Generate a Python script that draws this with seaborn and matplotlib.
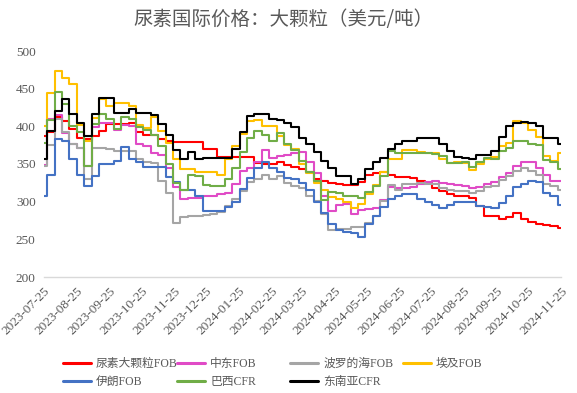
import pandas as pd
import matplotlib
matplotlib.use('Agg')
import matplotlib.pyplot as plt
import matplotlib.dates as mdates
from matplotlib.lines import Line2D
import seaborn as sns

sns.set_theme(style="white")
plt.rcParams['font.family'] = ['Liberation Serif', 'Noto Sans CJK SC', 'DejaVu Sans']
plt.rcParams['axes.unicode_minus'] = False

START = pd.Timestamp('2023-07-25')
END = pd.Timestamp('2024-11-25')
# first quote on the start date, then one quote per week (Fridays)
quote_dates = [START] + list(pd.date_range('2023-07-28', '2024-11-22', freq='7D'))

# 尿素大颗粒FOB
urea_fob = [387,
            392, 413, 407, 397, 384, 383, 387, 394, 403, 403,
            403, 405, 393, 389, 388, 383, 381, 379, 379, 379,
            379, 370, 370, 359, 359, 359, 359, 359, 351, 350,
            350, 352, 349, 346, 343, 340, 330, 328, 325, 323,
            322, 322, 326, 336, 338, 340, 335, 333, 333, 331,
            328, 325, 318, 314, 310, 308, 307, 305, 294, 281,
            281, 277, 279, 285, 277, 273, 271, 269, 268, 265]
# 中东FOB
mideast_fob = [349,
               410, 415, 391, 377, 371, 347, 399, 405, 405, 395,
               402, 400, 377, 374, 364, 362, 345, 320, 303, 305,
               305, 307, 307, 310, 312, 323, 341, 345, 352, 369,
               358, 360, 362, 365, 366, 352, 338, 308, 288, 296,
               297, 284, 289, 290, 292, 302, 320, 318, 318, 319,
               323, 326, 327, 325, 323, 322, 321, 318, 320, 323,
               326, 333, 338, 347, 353, 353, 345, 335, 328, 327]
# 波罗的海FOB
baltic_fob = [347,
              375, 410, 393, 377, 371, 330, 371, 371, 370, 367,
              367, 367, 356, 352, 351, 327, 312, 272, 280, 281,
              281, 282, 284, 286, 294, 303, 314, 326, 330, 336,
              330, 334, 325, 321, 318, 307, 301, 283, 262, 264,
              264, 266, 266, 272, 281, 301, 322, 315, 323, 323,
              325, 324, 323, 318, 315, 314, 314, 312, 314, 319,
              321, 329, 334, 341, 345, 341, 336, 323, 321, 316]
# 埃及FOB
egypt_fob = [401,
             444, 473, 464, 456, 402, 380, 411, 436, 427, 431,
             431, 427, 402, 398, 412, 394, 378, 356, 344, 344,
             340, 339, 339, 336, 356, 374, 390, 407, 409, 401,
             401, 387, 375, 370, 350, 338, 325, 315, 306, 303,
             300, 292, 297, 310, 322, 340, 357, 356, 368, 369,
             366, 365, 365, 356, 351, 352, 351, 342, 350, 357,
             359, 374, 378, 407, 404, 395, 386, 361, 354, 364]
# 伊朗FOB
iran_fob = [307,
            336, 383, 381, 357, 336, 321, 334, 350, 350, 354,
            372, 356, 352, 346, 346, 346, 333, 326, 315, 315,
            308, 287, 287, 288, 293, 300, 317, 332, 345, 352,
            345, 339, 332, 330, 325, 315, 300, 285, 270, 262,
            260, 258, 253, 270, 281, 293, 304, 308, 310, 310,
            304, 300, 296, 291, 295, 299, 299, 300, 294, 293,
            292, 298, 307, 320, 323, 328, 326, 312, 308, 295]
# 巴西CFR
brazil_cfr = [378,
              408, 445, 429, 400, 392, 348, 403, 417, 410, 396,
              413, 410, 399, 395, 388, 374, 350, 325, 316, 336,
              334, 322, 321, 321, 330, 345, 366, 385, 394, 389,
              381, 391, 376, 369, 354, 340, 327, 302, 313, 312,
              308, 308, 305, 313, 321, 334, 367, 364, 365, 365,
              364, 364, 363, 361, 351, 351, 352, 346, 352, 358,
              356, 367, 371, 381, 381, 377, 375, 355, 353, 343]
# 东南亚CFR
sea_cfr = [356,
           394, 420, 436, 416, 405, 387, 416, 437, 438, 418,
           418, 423, 418, 418, 415, 403, 388, 369, 357, 366,
           357, 358, 358, 358, 358, 370, 393, 414, 416, 416,
           410, 409, 404, 399, 384, 376, 366, 354, 345, 334,
           334, 324, 330, 343, 352, 358, 370, 376, 381, 381,
           384, 384, 384, 376, 367, 359, 358, 356, 362, 362,
           367, 386, 400, 405, 406, 405, 401, 384, 384, 376]

markets = ['尿素大颗粒FOB', '中东FOB', '波罗的海FOB', '埃及FOB', '伊朗FOB', '巴西CFR', '东南亚CFR']
market_values = [urea_fob, mideast_fob, baltic_fob, egypt_fob, iran_fob, brazil_cfr, sea_cfr]
market_colors = ['#FF0000', '#E04BC6', '#A5A5A5', '#FFC000', '#4472C4', '#70AD47', '#000000']

frames = []
for name, vals in zip(markets, market_values):
    # hold the last quote until the end of the axis
    frames.append(pd.DataFrame({'date': quote_dates + [END],
                                'price': vals + [vals[-1]],
                                'market': name}))
df = pd.concat(frames, ignore_index=True)

fig = plt.figure(figsize=(5.77, 3.93), dpi=100)
ax = fig.add_axes([44 / 577, 1 - 277 / 393, (561 - 44) / 577, (277 - 51) / 393])

sns.lineplot(data=df, x='date', y='price', hue='market', hue_order=markets,
             palette=dict(zip(markets, market_colors)), estimator=None,
             drawstyle='steps-post', linewidth=1.5, legend=False, ax=ax)

ax.set_xlim(START, END)
ax.set_ylim(200, 500)
ax.set_yticks(range(200, 501, 50))
ax.set_xticks([START + pd.DateOffset(months=i) for i in range(17)])
ax.xaxis.set_major_formatter(mdates.DateFormatter('%Y-%m-%d'))
ax.set_xlabel('')
ax.set_ylabel('')

for s in ['top', 'right', 'left']:
    ax.spines[s].set_visible(False)
ax.spines['bottom'].set_color('#D9D9D9')
ax.spines['bottom'].set_linewidth(1.0)
ax.tick_params(axis='x', length=4, color='#D9D9D9', width=1.0, labelsize=9.5,
               labelcolor='#595959', pad=2)
ax.tick_params(axis='y', length=0, labelsize=9.5, labelcolor='#595959', pad=6)
for lab in ax.get_xticklabels():
    lab.set_rotation(45)
    lab.set_ha('right')
    lab.set_rotation_mode('anchor')

fig.text(283 / 577, 1 - 20 / 393, '尿素国际价格：大颗粒（美元/吨）', ha='center', va='center',
         fontsize=14, color='#595959', family=['Noto Sans CJK SC'])

# legend laid out like the spreadsheet: fixed column positions
leg_x = [63, 177, 290, 403, 63, 177, 290]
leg_y = [364, 364, 364, 364, 382, 382, 382]
for name, col, lx, ly in zip(markets, market_colors, leg_x, leg_y):
    h = Line2D([], [], color=col, linewidth=2.2)
    fig.legend([h], [name], loc='center left', bbox_to_anchor=(lx / 577, 1 - ly / 393),
               frameon=False, borderpad=0, borderaxespad=0, handlelength=2.4,
               handletextpad=0.4, fontsize=8.5, labelcolor='#595959')

fig.savefig('out.png', dpi=100)
